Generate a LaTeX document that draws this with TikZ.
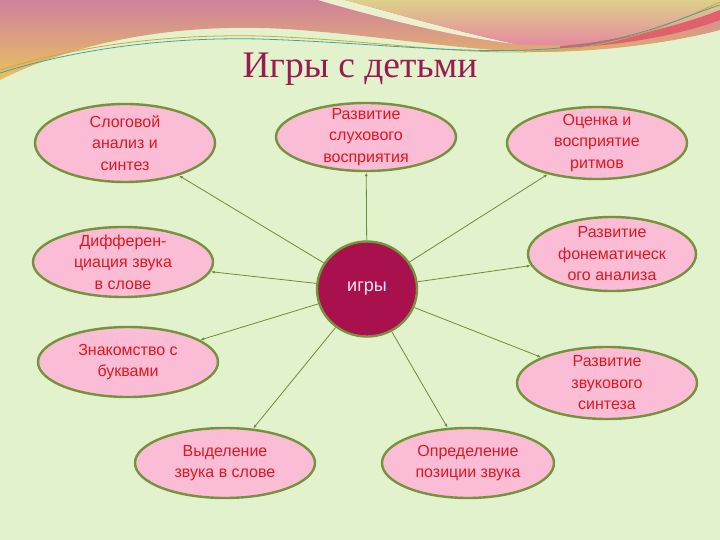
\documentclass[tikz,border=0pt]{standalone}
\usepackage{fontspec}
\setmainfont{Liberation Sans}
\newfontfamily\titlefont{Liberation Serif}
\usetikzlibrary{shapes.geometric,arrows.meta}
\definecolor{fon}{HTML}{E2F2CD}
\definecolor{bandtop}{HTML}{CF829C}
\definecolor{bandbottom}{HTML}{EAC25E}
\definecolor{swirltop}{HTML}{DDD08A}
\definecolor{swirlbottom}{HTML}{E782A2}
\definecolor{cream}{HTML}{EBF1CF}
\definecolor{redstreak}{HTML}{E0606C}
\definecolor{teal}{HTML}{3FA3A6}
\definecolor{gold}{HTML}{D4A43A}
\definecolor{titlecol}{HTML}{9B1A50}
\definecolor{leaffill}{HTML}{FABDD5}
\definecolor{leafline}{HTML}{76923C}
\definecolor{leaftext}{HTML}{E0161F}
\definecolor{hubfill}{HTML}{A8104E}
\definecolor{hubtext}{HTML}{FFE6F2}
\definecolor{linkline}{HTML}{6B8E3A}
\begin{document}
\begin{tikzpicture}[x=1pt,y=-1pt,
  leaf/.style={ellipse, draw=leafline, line width=2.4pt, fill=leaffill, text=leaftext,
    font=\fontsize{16}{21.5}\selectfont, align=center, inner xsep=0pt, inner ysep=-16pt,
    minimum width=180pt, minimum height=72pt},
  hub/.style={ellipse, draw=leafline, line width=2.4pt, fill=hubfill, text=hubtext,
    font=\fontsize{18}{20}\selectfont, inner sep=0pt,
    minimum width=100pt, minimum height=95pt},
  link/.style={draw=linkline, line width=0.8pt, -{Latex[length=4pt,width=3pt]}}]
  % фон
  \fill[fon] (0,0) rectangle (720,540);
  \useasboundingbox (0,0) rectangle (720,540);

  % волны сверху
  \shade[top color=bandtop, bottom color=bandbottom]
    (0,0) -- (0,80) .. controls (90,35) and (200,22) .. (300,30)
    .. controls (400,38) and (470,52) .. (550,52)
    .. controls (630,50) and (690,38) .. (720,30) -- (720,0) -- cycle;
  \fill[cream] (318,0) .. controls (380,18) and (450,36) .. (515,44)
    .. controls (450,30) and (390,12) .. (345,0) -- cycle;
  \shade[top color=swirltop, bottom color=swirlbottom]
    (345,0) .. controls (390,12) and (450,30) .. (515,44)
    .. controls (600,50) and (670,30) .. (720,10) -- (720,0) -- cycle;
  \fill[redstreak] (560,46) .. controls (630,40) and (690,22) .. (720,10)
    -- (720,20) .. controls (680,35) and (620,46) .. (560,48) -- cycle;
  \draw[gold, line width=0.8pt] (0,70) .. controls (80,45) and (170,34) .. (260,36)
    .. controls (380,40) and (470,58) .. (560,50) .. controls (640,42) and (690,15) .. (720,2);
  \draw[teal, line width=0.8pt] (0,73) .. controls (80,48) and (170,37) .. (260,39)
    .. controls (380,43) and (470,56) .. (560,48) .. controls (640,40) and (690,14) .. (720,5);

  % заголовок
  \node[anchor=base, text=titlecol, font=\titlefont\fontsize{37.5}{40}\selectfont] (title) at (360,78) {Игры с детьми};

  % узлы
  \node[hub] (igry) at (367,289) {игры};
  \node[leaf, minimum height=78pt] (slog) at (125,143) {Слоговой\\анализ и\\синтез};
  \node[leaf, minimum height=68pt] (sluh) at (366,137) {Развитие\\слухового\\восприятия};
  \node[leaf] (ritm) at (597,143) {Оценка и\\восприятие\\ритмов};
  \node[leaf, minimum height=70pt] (diff) at (123,262) {Дифферен-\\циация звука\\в слове};
  \node[leaf, minimum width=168pt, minimum height=74pt] (fonem) at (612,254) {Развитие\\фонематическ\\ого анализа};
  \node[leaf, minimum height=70pt] (bukv) at (128,362) {Знакомство с\\буквами};
  \node[leaf] (sint) at (607,383) {Развитие\\звукового\\синтеза};
  \node[leaf, minimum height=70pt] (vyd) at (225,463) {Выделение\\звука в слове};
  \node[leaf, minimum width=172pt, minimum height=70pt] (poz) at (468,463) {Определение\\позиции звука};

  % стрелки
  \draw[link] (igry) -- (slog);
  \draw[link] (igry) -- (sluh);
  \draw[link] (igry) -- (ritm);
  \draw[link] (igry) -- (diff);
  \draw[link] (igry) -- (fonem);
  \draw[link] (igry) -- (bukv);
  \draw[link] (igry) -- (sint);
  \draw[link] (igry) -- (vyd);
  \draw[link] (igry) -- (poz);
\end{tikzpicture}
\end{document}
